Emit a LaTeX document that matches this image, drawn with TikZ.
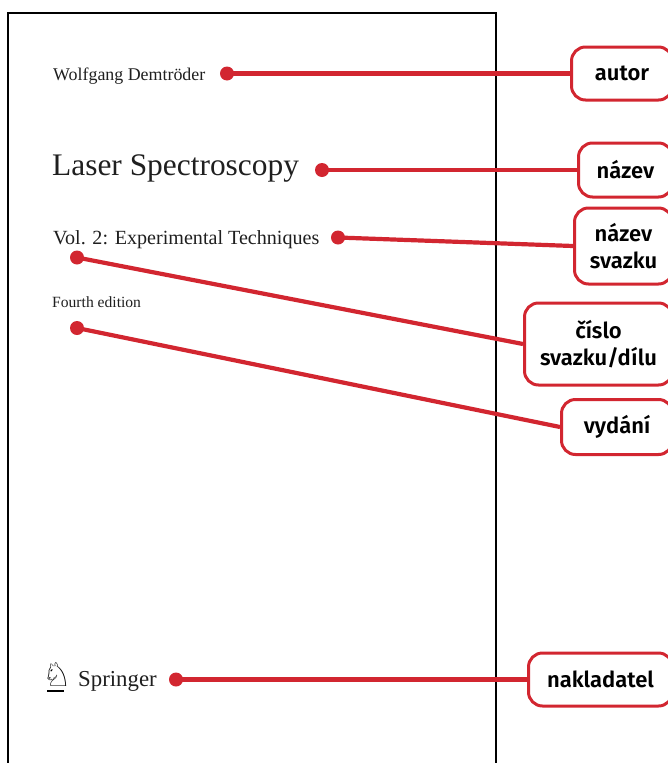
\documentclass[tikz,border=0pt]{standalone}
\usepackage{fontspec}
\setmainfont{Liberation Serif}
\newfontfamily\labelfont{Fira Sans}[UprightFont={* Medium},BoldFont={* SemiBold}]
\newfontfamily\symfont{DejaVu Sans}
\definecolor{tagred}{RGB}{210,38,48}
\begin{document}
\begin{tikzpicture}[x=1pt,y=-1pt,
  pagetext/.style={anchor=base west,inner sep=0pt,text=black!88},
  tagbox/.style={draw=tagred,line width=3pt,rounded corners=14pt,fill=white,
    anchor=west,align=center,inner sep=0pt,font=\labelfont\bfseries\fontsize{22}{27.5}\selectfont},
  leader/.style={draw=tagred,line width=4.2pt},
  dotmark/.style={fill=tagred}]
\useasboundingbox (0,0) rectangle (668,763);
\begin{scope}
\clip (0,0) rectangle (668,763);
% page frame
\draw[line width=2pt,line cap=rect] (8,770) -- (8,13) -- (496,13) -- (496,770);
% page texts
\node[pagetext,font=\fontsize{17.9}{20}\selectfont] (author) at (53,80) {Wolfgang Demtröder};
\node[pagetext,font=\fontsize{31.4}{34}\selectfont] (title) at (52,175) {Laser Spectroscopy};
\node[pagetext,font=\fontsize{20.1}{22}\selectfont] (vol) at (53,244) {Vol. 2: Experimental Techniques};
\node[pagetext,font=\fontsize{15.6}{18}\selectfont] (edition) at (52,307) {Fourth edition};
\node[pagetext,font=\fontsize{22.8}{24}\selectfont] (publisher) at (78,686) {Springer};
\node[anchor=base west,inner sep=0pt,font=\symfont\fontsize{33}{33}\selectfont] (logo) at (42,686.5) {♘};
\draw[line width=2pt] (47,691) -- (64,691);
% labels
\node[tagbox,minimum width=101pt,minimum height=53pt] (tautor) at (570,73.5) {autor};
\node[tagbox,minimum width=94pt,minimum height=54pt] (tnazev) at (577,170) {název};
\node[tagbox,minimum width=98pt,minimum height=76pt] (tsvazek) at (573,246) {název\\svazku};
\node[tagbox,minimum width=148pt,minimum height=82pt] (tcislo) at (523,344) {číslo\\svazku/dílu};
\node[tagbox,minimum width=111pt,minimum height=55pt] (tvydani) at (560,427) {vydání};
\node[tagbox,minimum width=144pt,minimum height=53pt] (tnaklad) at (527,679.5) {nakladatel};
% dots
\coordinate (dautor) at (227,73.5);
\coordinate (dnazev) at (322,170);
\coordinate (dsvazek) at (338,237.5);
\coordinate (dcislo) at (77,257.5);
\coordinate (dvydani) at (77,328);
\coordinate (dnaklad) at (176,679.5);
\path[leader] (dautor) -- (tautor.west);
\path[leader] (dnazev) -- (tnazev.west);
\path[leader] (dsvazek) -- (tsvazek.west);
\path[leader] (dcislo) -- (tcislo.west);
\path[leader] (dvydani) -- (tvydani.west);
\path[leader] (dnaklad) -- (tnaklad.west);
\foreach \d in {dautor,dnazev,dsvazek,dcislo,dvydani,dnaklad}
  \fill[dotmark] (\d) circle (7pt);
\end{scope}
\end{tikzpicture}
\end{document}
